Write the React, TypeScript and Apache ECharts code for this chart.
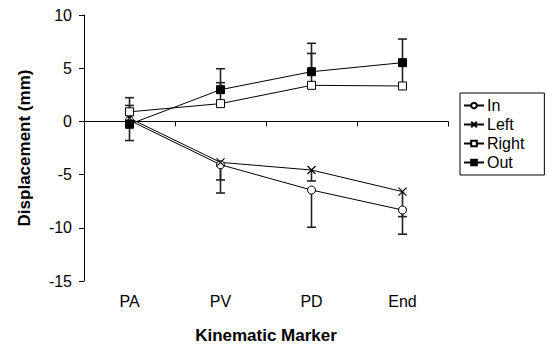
import React, { useEffect, useRef } from "react";
import * as echarts from "echarts";

const categories = ["PA", "PV", "PD", "End"];
const inValues = [0.1, -4.07, -6.45, -8.33];
const leftValues = [0.3, -3.85, -4.57, -6.6];
const rightValues = [0.9, 1.67, 3.39, 3.33];
const outValues = [-0.27, 2.98, 4.67, 5.52];
// one-sided error bars: In/Left downward, Right/Out upward
const inErr = [1.9, 2.66, 3.5, 2.27];
const leftErr = [0.8, 1.65, 1.03, 2.35];
const rightErr = [0.6, 1.97, 3.0, 1.9];
const outErr = [2.5, 1.97, 2.67, 2.22];
const yTicks = { min: -15, max: 10, interval: 5 };

const FONT = "'Liberation Sans', Arial, sans-serif";

export default function App() {
  const ref = useRef<HTMLDivElement>(null);
  useEffect(() => {
    if (!ref.current) return;
    const chart = echarts.init(ref.current, null, { renderer: "svg" });

    const errData: number[][] = [];
    const addErr = (vals: number[], errs: number[], dir: number) => {
      vals.forEach((v, i) => errData.push([i, v, v + dir * errs[i]]));
    };
    addErr(inValues, inErr, -1);
    addErr(leftValues, leftErr, -1);
    addErr(rightValues, rightErr, 1);
    addErr(outValues, outErr, 1);

    const lineBase = {
      type: "line" as const,
      lineStyle: { color: "#000", width: 1 },
      z: 5,
      emphasis: { disabled: true },
    };

    chart.setOption({
      animation: false,
      grid: { left: 84, right: 99, top: 15, bottom: 65, containLabel: false, outerBoundsMode: "none" },
      legend: {
        orient: "vertical",
        left: 460,
        top: 93,
        data: ["In", "Left", "Right", "Out"],
        borderColor: "#000",
        borderWidth: 1,
        padding: [4, 20, 4, 3],
        itemGap: 2,
        itemWidth: 20,
        itemHeight: 7,
        textStyle: { fontFamily: FONT, fontSize: 16, color: "#000", padding: [0, 0, 0, -2], lineHeight: 17 },
      },
      xAxis: {
        type: "category",
        data: categories,
        boundaryGap: true,
        name: "Kinematic Marker",
        nameLocation: "middle",
        nameGap: 46,
        nameTextStyle: { fontFamily: FONT, fontSize: 17, fontWeight: "bold", color: "#000" },
        axisLine: { lineStyle: { color: "#000", width: 1 } },
        axisTick: { show: true, length: 5, lineStyle: { color: "#000" } },
        axisLabel: { fontFamily: FONT, fontSize: 16, color: "#000", margin: 12 },
        splitLine: { show: false },
      },
      yAxis: {
        type: "value",
        min: yTicks.min,
        max: yTicks.max,
        interval: yTicks.interval,
        name: "Displacement (mm)",
        nameLocation: "middle",
        nameGap: 51,
        nameTextStyle: { fontFamily: FONT, fontSize: 17, fontWeight: "bold", color: "#000" },
        axisLine: { show: true, lineStyle: { color: "#000", width: 1 } },
        axisTick: { show: true, length: 5, lineStyle: { color: "#000" } },
        axisLabel: { fontFamily: FONT, fontSize: 16, color: "#000", margin: 12 },
        splitLine: { show: false },
      },
      series: [
        {
          type: "custom",
          name: "errors",
          z: 2,
          silent: true,
          data: errData,
          renderItem: (params: any, api: any) => {
            const x = api.value(0);
            const p0 = api.coord([x, api.value(1)]);
            const p1 = api.coord([x, api.value(2)]);
            return {
              type: "group",
              children: [
                {
                  type: "line",
                  shape: { x1: p0[0], y1: p0[1], x2: p1[0], y2: p1[1] },
                  style: { stroke: "#222", lineWidth: 1.6 },
                },
                {
                  type: "line",
                  shape: { x1: p1[0] - 4.5, y1: p1[1], x2: p1[0] + 4.5, y2: p1[1] },
                  style: { stroke: "#222", lineWidth: 1.6 },
                },
              ],
            };
          },
        },
        {
          ...lineBase,
          name: "In",
          data: inValues,
          symbol: "circle",
          symbolSize: 8,
          itemStyle: { color: "#fff", borderColor: "#000", borderWidth: 1 },
        },
        {
          ...lineBase,
          name: "Left",
          data: leftValues,
          symbol: "path://M0,0L10,10M10,0L0,10",
          symbolSize: 8,
          itemStyle: { color: "none", borderColor: "#000", borderWidth: 1.2 },
        },
        {
          ...lineBase,
          name: "Right",
          data: rightValues,
          symbol: "rect",
          symbolSize: 8,
          itemStyle: { color: "#fff", borderColor: "#000", borderWidth: 1 },
        },
        {
          ...lineBase,
          name: "Out",
          data: outValues,
          symbol: "rect",
          symbolSize: 8,
          itemStyle: { color: "#000", borderColor: "#000", borderWidth: 1 },
          markLine: {
            silent: true,
            symbol: "none",
            label: { show: false },
            lineStyle: { type: [8, 3, 2, 3], color: "#000", width: 1 },
            emphasis: { disabled: true },
            data: [{ yAxis: 0 }],
          },
        },
      ],
    });
    return () => chart.dispose();
  }, []);

  return <div ref={ref} style={{ width: 547, height: 346, position: "absolute", left: 0, top: 0, background: "#fff" }} />;
}
